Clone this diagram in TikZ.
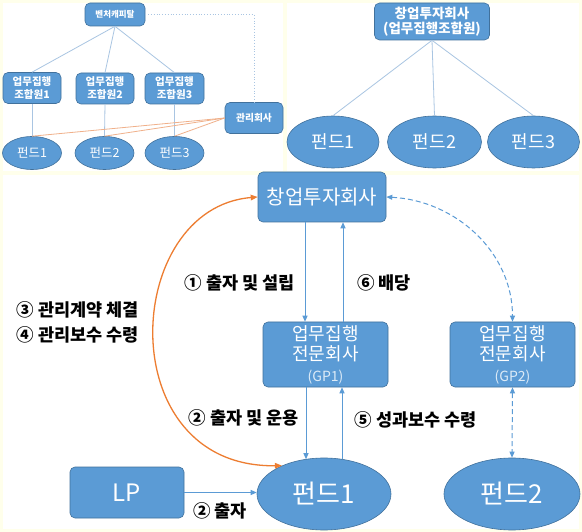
\documentclass[tikz,border=0pt]{standalone}
\usepackage{fontspec}
\setmainfont{Noto Sans CJK KR}
\usetikzlibrary{shapes.geometric,arrows.meta}
\definecolor{boxblue}{HTML}{5B9BD5}
\definecolor{boxedge}{HTML}{41719C}
\definecolor{linelt}{HTML}{A9C5E2}
\definecolor{arrblue}{HTML}{5B9BD5}
\definecolor{orangeA}{HTML}{ED7D31}
\definecolor{orangeL}{HTML}{F0B08A}
\definecolor{cream}{HTML}{FFFFEB}
\definecolor{gptext}{HTML}{DDEBF7}
\newcommand{\fs}[1]{\fontsize{#1}{1.15\dimexpr#1pt\relax}\selectfont}
\tikzset{
  bluebox/.style={rectangle, rounded corners=5pt, fill=boxblue, draw=boxedge, line width=0.6pt, text=white, align=center, inner sep=0pt},
  blueell/.style={ellipse, fill=boxblue, draw=boxedge, line width=0.6pt, text=white, inner sep=0pt},
  conn/.style={draw=linelt, line width=0.8pt},
  oconn/.style={draw=orangeL, line width=0.8pt},
  arr/.style={draw=arrblue, line width=1pt, -{Triangle[length=6pt,width=5pt]}},
  darr/.style={draw=arrblue, line width=1pt, dashed, dash pattern=on 5pt off 3pt, {Triangle[length=6pt,width=5pt]}-{Triangle[length=6pt,width=5pt]}},
  oarr/.style={draw=orangeA, line width=1.3pt, {Triangle[length=7pt,width=5.5pt]}-{Triangle[length=7pt,width=5.5pt]}},
  lbl/.style={text=black, font=\fs{17.5}\bfseries, inner sep=0pt}
}
\begin{document}
\begin{tikzpicture}[x=1pt,y=-1pt]
% background and panels
\fill[cream] (0,0) rectangle (582,532);
\fill[white] (3,3) rectangle (283,171);
\fill[white] (287,3) rectangle (579,171);
\fill[white] (3,175) rectangle (579,529);
\useasboundingbox (0,0) rectangle (582,532);

% ---------- top-left panel ----------
\node[bluebox, minimum width=60pt, minimum height=23pt, font=\fs{8.5}\bfseries] (vc) at (115,14.5) {벤처캐피탈};
\node[bluebox, minimum width=58pt, minimum height=31pt, font=\fontsize{10.5}{13}\selectfont\bfseries] (ga) at (32,88) {업무집행\\조합원1};
\node[bluebox, minimum width=58pt, minimum height=31pt, font=\fontsize{10.5}{13}\selectfont\bfseries] (gb) at (105,88.5) {업무집행\\조합원2};
\node[bluebox, minimum width=59pt, minimum height=31pt, font=\fontsize{10.5}{13}\selectfont\bfseries] (gc) at (174.5,88.5) {업무집행\\조합원3};
\node[bluebox, minimum width=58pt, minimum height=31pt, font=\fs{9.7}\bfseries] (mg) at (254,118) {관리회사};
\node[blueell, minimum width=59pt, minimum height=33pt, font=\fs{12.5}] (ta) at (32,153) {펀드1};
\node[blueell, minimum width=59pt, minimum height=33pt, font=\fs{12.5}] (tb) at (104.5,153) {펀드2};
\node[blueell, minimum width=59pt, minimum height=33pt, font=\fs{12.5}] (tc) at (174.5,153) {펀드3};
\draw[conn] (vc.south) -- (ga.north);
\draw[conn] (vc.south) -- (gb.north);
\draw[conn] (vc.south) -- (gc.north);
\draw[conn] (ga.south) -- (ta.north);
\draw[conn] (gb.south) -- (tb.north);
\draw[conn] (gc.south) -- (tc.north);
\draw[conn, dotted] (vc.east) -| (mg.north);
\draw[oconn] (mg.west) -- (ta.north);
\draw[oconn] (mg.west) -- (tb.north);
\draw[oconn] (mg.west) -- (tc.north);

% ---------- top-right panel ----------
\node[bluebox, minimum width=115pt, minimum height=37pt, font=\fontsize{13.5}{15.5}\selectfont\bfseries] (cb) at (432,21.5) {창업투자회사\\(업무집행조합원)};
\node[blueell, minimum width=92pt, minimum height=52pt, font=\fs{18}] (ra) at (333,142) {펀드1};
\node[blueell, minimum width=94pt, minimum height=52pt, font=\fs{18}] (rb) at (434.5,142) {펀드2};
\node[blueell, minimum width=92pt, minimum height=52pt, font=\fs{18}] (rc) at (533.5,142) {펀드3};
\draw[conn] (cb.south) -- (ra.north);
\draw[conn] (cb.south) -- (rb.north);
\draw[conn] (cb.south) -- (rc.north);

% ---------- bottom panel ----------
\node[bluebox, minimum width=128pt, minimum height=50pt, font=\fs{20}] (main) at (322,197) {창업투자회사};
\node[bluebox, minimum width=125pt, minimum height=65pt, font=\fontsize{18}{20.5}\selectfont] (gpa) at (325.5,354.5) {업무집행\\전문회사\\{\color{gptext}\fontsize{14}{20.5}\selectfont (GP1)}};
\node[bluebox, minimum width=125pt, minimum height=65pt, font=\fontsize{18}{20.5}\selectfont] (gpb) at (512.5,354.5) {업무집행\\전문회사\\{\color{gptext}\fontsize{14}{20.5}\selectfont (GP2)}};
\node[blueell, minimum width=134pt, minimum height=72pt, font=\fs{26}] (bfa) at (324,494) {펀드1};
\node[blueell, minimum width=136pt, minimum height=72pt, font=\fs{26}] (bfb) at (512,494) {펀드2};
\node[bluebox, minimum width=114pt, minimum height=51pt, font=\fs{24}] (lp) at (127,492.5) {LP};

\draw[arr] ([xshift=-17pt]main.south) -- ([xshift=-17pt]main.south |- gpa.north);
\draw[arr] ([xshift=17.5pt]gpa.north) -- ([xshift=17.5pt]gpa.north |- main.south);
\draw[arr] ([xshift=-19.5pt]gpa.south) -- ([xshift=-19.5pt,yshift=-1.5pt]gpa.south |- bfa.north);
\draw[arr] ([xshift=16.5pt,yshift=-1.5pt]gpa.south |- bfa.north) -- ([xshift=16.5pt]gpa.south);
\draw[arr] (lp.east) -- (lp.east -| bfa.west);
\draw[darr] (main.east) to[out=-3, in=90] (gpb.north);
\draw[darr] (gpb.south) -- (bfb.north);
\draw[oarr] (bfa.146) .. controls (110,468) and (122,208) .. (main.west);

\node[lbl] (l1) at (240,283) {① 출자 및 설립};
\node[lbl] (l6) at (384,283) {⑥ 배당};
\node[lbl] (l3) at (78,310) {③ 관리계약 체결};
\node[lbl] (l4) at (78,335) {④ 관리보수 수령};
\node[lbl] (l2) at (244,418) {② 출자 및 운용};
\node[lbl] (l5) at (416,420) {⑤ 성과보수 수령};
\node[lbl] (l2b) at (220,511) {② 출자};
\end{tikzpicture}
\end{document}
